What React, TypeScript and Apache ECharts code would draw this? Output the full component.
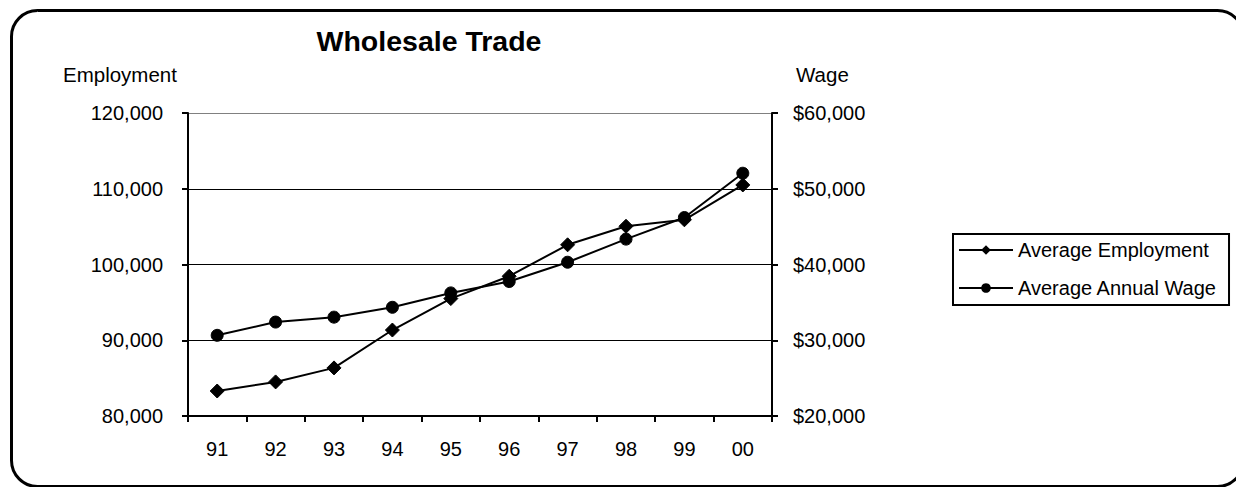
import React, { useEffect, useRef } from "react";
import * as echarts from "echarts";

const years = ["91", "92", "93", "94", "95", "96", "97", "98", "99", "00"];
const employment = [83300, 84500, 86350, 91350, 95500, 98450, 102600, 105050, 105900, 110500];
const wage = [30650, 32400, 33050, 34350, 36250, 37750, 40300, 43350, 46200, 52050];
const FONT = 'Arial, "Liberation Sans", sans-serif';

export default function App() {
  const ref = useRef<HTMLDivElement>(null);
  useEffect(() => {
    const chart = echarts.init(ref.current!, undefined, { renderer: "svg" });
    chart.setOption({
      animation: false,
      backgroundColor: "#fff",
      textStyle: { fontFamily: FONT, color: "#000" },
      title: {
        text: "Wholesale Trade",
        left: 416,
        top: 13,
        textAlign: "center",
        textStyle: { fontFamily: FONT, fontSize: 28.5, fontWeight: "bold", color: "#000" },
      },
      graphic: [
        {
          type: "rect",
          shape: { x: 3.5, y: 2.5, width: 1232, height: 476, r: 26 },
          style: { fill: "none", stroke: "#000", lineWidth: 3 },
          z: 100,
        },
        {
          type: "text",
          x: 55,
          y: 66,
          style: { text: "Employment", fontFamily: FONT, fontSize: 20.5, fill: "#000", textVerticalAlign: "middle" },
        },
        {
          type: "text",
          x: 788,
          y: 66,
          style: { text: "Wage", fontFamily: FONT, fontSize: 20.5, fill: "#000", textVerticalAlign: "middle" },
        },
      ],
      legend: {
        orient: "vertical",
        left: 945,
        top: 226,
        padding: [6, 12, 7, 5],
        itemGap: 18,
        itemWidth: 54,
        itemHeight: 12,
        borderColor: "#000",
        borderWidth: 2,
        borderRadius: 0,
        textStyle: { fontFamily: FONT, fontSize: 20, color: "#000", padding: [0, 0, 0, 0] },
        data: ["Average Employment", "Average Annual Wage"],
      },
      grid: { left: 180, right: 472, top: 105, bottom: 71, containLabel: false },
      xAxis: {
        type: "category",
        data: years,
        boundaryGap: true,
        axisLine: { show: true, lineStyle: { color: "#000", width: 2 } },
        axisTick: { show: true, interval: 0, length: 6, lineStyle: { color: "#000", width: 2 } },
        axisLabel: { fontFamily: FONT, fontSize: 20, color: "#000", margin: 23, interval: 0 },
        splitLine: { show: false },
      },
      yAxis: [
        {
          type: "value",
          min: 80000,
          max: 120000,
          interval: 10000,
          position: "left",
          axisLine: { show: true, lineStyle: { color: "#000", width: 2 } },
          axisTick: { show: true, length: 6, lineStyle: { color: "#000", width: 2 } },
          axisLabel: {
            fontFamily: FONT,
            fontSize: 20,
            color: "#000",
            margin: 25,
            formatter: (v: number) => v.toLocaleString("en-US"),
          },
          splitLine: {
            show: true,
            lineStyle: { color: ["#000", "#000", "#000", "#000", "#808080"], width: 1 },
          },
        },
        {
          type: "value",
          min: 20000,
          max: 60000,
          interval: 10000,
          position: "right",
          axisLine: { show: true, lineStyle: { color: "#000", width: 2 } },
          axisTick: { show: true, length: 6, lineStyle: { color: "#000", width: 2 } },
          axisLabel: {
            fontFamily: FONT,
            fontSize: 20,
            color: "#000",
            margin: 21,
            formatter: (v: number) => "$" + v.toLocaleString("en-US"),
          },
          splitLine: { show: false },
        },
      ],
      series: [
        {
          name: "Average Employment",
          type: "line",
          data: employment,
          yAxisIndex: 0,
          symbol: "diamond",
          symbolSize: 14,
          showAllSymbol: true,
          lineStyle: { color: "#000", width: 2 },
          itemStyle: { color: "#000", borderColor: "#000" },
          z: 3,
        },
        {
          name: "Average Annual Wage",
          type: "line",
          data: wage,
          yAxisIndex: 1,
          symbol: "circle",
          symbolSize: 12,
          showAllSymbol: true,
          lineStyle: { color: "#000", width: 2 },
          itemStyle: { color: "#000", borderColor: "#000" },
          z: 3,
        },
      ],
    });
    return () => chart.dispose();
  }, []);
  return <div ref={ref} style={{ width: 1236, height: 479 }} />;
}
